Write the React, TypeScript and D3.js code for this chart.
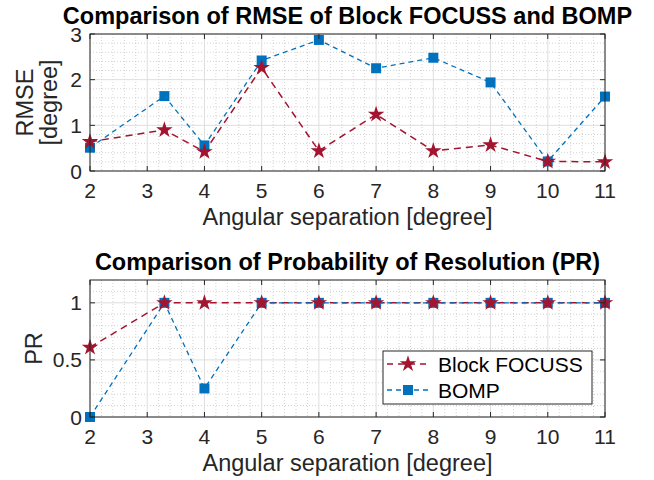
import React from "react";
import * as d3 from "d3";

const angles = [2, 3.3, 4, 5, 6, 7, 8, 9, 10, 11];
const rmseFocuss = [0.64, 0.9, 0.42, 2.26, 0.44, 1.24, 0.44, 0.57, 0.21, 0.2];
const rmseBomp = [0.51, 1.64, 0.56, 2.42, 2.87, 2.25, 2.48, 1.94, 0.21, 1.63];
const prFocuss = [0.61, 1, 1, 1, 1, 1, 1, 1, 1, 1];
const prBomp = [0, 1, 0.25, 1, 1, 1, 1, 1, 1, 1];
const xTicks = [2, 3, 4, 5, 6, 7, 8, 9, 10, 11];
const rmseTicks = [0, 1, 2, 3];
const prTicks = [0, 0.5, 1];
const seriesNames = ["Block FOCUSS", "BOMP"];

const RED = "#A2142F";
const BLUE = "#0072BD";
const FONT = "'Liberation Sans', Arial, Helvetica, sans-serif";
const AX = "#262626";

const starPath = d3.symbol().type(d3.symbolStar).size(85)()!;
const squarePath = d3.symbol().type(d3.symbolSquare).size(100)()!;

type PanelProps = {
  top: number;
  bottom: number;
  yMax: number;
  yTicks: number[];
  minorStep: number;
  focuss: number[];
  bomp: number[];
  title: string;
  ylabel: string[];
  ylabelX: number;
  legend?: boolean;
};

const L = 90;
const R = 605;

function Panel(p: PanelProps) {
  const x = d3.scaleLinear().domain([2, 11]).range([L, R]);
  const y = d3.scaleLinear().domain([0, p.yMax]).range([p.bottom, p.top]);
  const xMinor = d3.range(2, 11.0001, 0.2).filter((v) => Math.abs(v - Math.round(v)) > 1e-6);
  const yMinor = d3
    .range(0, p.yMax + 1e-6, p.minorStep)
    .filter((v) => !p.yTicks.some((t) => Math.abs(t - v) < 1e-6));
  const line = d3
    .line<number>()
    .x((_, i) => x(angles[i]))
    .y((d) => y(d));
  const tl = 5;
  const cx = (L + R) / 2;
  const cy = (p.top + p.bottom) / 2;
  return (
    <g>
      {xMinor.map((v, i) => (
        <line key={"xm" + i} x1={x(v)} x2={x(v)} y1={p.top} y2={p.bottom} stroke="#c8c8c8" strokeWidth={0.8} strokeDasharray="1,2" />
      ))}
      {yMinor.map((v, i) => (
        <line key={"ym" + i} x1={L} x2={R} y1={y(v)} y2={y(v)} stroke="#c8c8c8" strokeWidth={0.8} strokeDasharray="1,2" />
      ))}
      {xTicks.map((v) => (
        <line key={"xg" + v} x1={x(v)} x2={x(v)} y1={p.top} y2={p.bottom} stroke="#dedede" strokeWidth={1} />
      ))}
      {p.yTicks.map((v) => (
        <line key={"yg" + v} x1={L} x2={R} y1={y(v)} y2={y(v)} stroke="#dedede" strokeWidth={1} />
      ))}
      <path d={line(p.focuss)!} fill="none" stroke={RED} strokeWidth={1.5} strokeDasharray="7,5" />
      <path d={line(p.bomp)!} fill="none" stroke={BLUE} strokeWidth={1.3} strokeDasharray="5,4" />
      {p.bomp.map((v, i) => (
        <path key={"b" + i} d={squarePath} transform={`translate(${x(angles[i])},${y(v)})`} fill={BLUE} />
      ))}
      {p.focuss.map((v, i) => (
        <path key={"f" + i} d={starPath} transform={`translate(${x(angles[i])},${y(v)})`} fill={RED} />
      ))}
      <rect x={L} y={p.top} width={R - L} height={p.bottom - p.top} fill="none" stroke={AX} strokeWidth={1} />
      {xTicks.map((v) => (
        <g key={"xt" + v}>
          <line x1={x(v)} x2={x(v)} y1={p.bottom} y2={p.bottom - tl} stroke={AX} />
          <line x1={x(v)} x2={x(v)} y1={p.top} y2={p.top + tl} stroke={AX} />
          <text x={x(v)} y={p.bottom + 27} textAnchor="middle" fontSize={21} fill={AX} fontFamily={FONT}>
            {v}
          </text>
        </g>
      ))}
      {p.yTicks.map((v) => (
        <g key={"yt" + v}>
          <line x1={L} x2={L + tl} y1={y(v)} y2={y(v)} stroke={AX} />
          <line x1={R} x2={R - tl} y1={y(v)} y2={y(v)} stroke={AX} />
          <text x={82} y={y(v) + 7.5} textAnchor="end" fontSize={21} fill={AX} fontFamily={FONT}>
            {v}
          </text>
        </g>
      ))}
      <text x={cx} y={p.top - 10} textAnchor="middle" fontSize={23.5} fontWeight="bold" fill="#000" fontFamily={FONT}>
        {p.title}
      </text>
      <text x={cx} y={p.bottom + 54} textAnchor="middle" fontSize={23.5} fill={AX} fontFamily={FONT}>
        Angular separation [degree]
      </text>
      <text transform={`translate(${p.ylabelX},${cy}) rotate(-90)`} textAnchor="middle" fontSize={23.5} fill={AX} fontFamily={FONT}>
        {p.ylabel.map((s, i) => (
          <tspan key={i} x={0} dy={i === 0 ? 0 : 24}>
            {s}
          </tspan>
        ))}
      </text>
      {p.legend && (
        <g>
          <rect x={383} y={351} width={209} height={53} fill="#fff" stroke={AX} strokeWidth={1} />
          {[0, 1].map((i) => {
            const ly = i === 0 ? 364 : 390;
            const c = i === 0 ? RED : BLUE;
            return (
              <g key={"lg" + i}>
                <line x1={387} x2={429} y1={ly} y2={ly} stroke={c} strokeWidth={i === 0 ? 1.5 : 1.3} strokeDasharray={i === 0 ? "6,5" : "5,4"} />
                <path d={i === 0 ? starPath : squarePath} transform={`translate(408,${ly})`} fill={c} />
                <text x={438} y={ly + 7.5} fontSize={21} fill="#000" fontFamily={FONT}>
                  {seriesNames[i]}
                </text>
              </g>
            );
          })}
        </g>
      )}
    </g>
  );
}

export default function App() {
  return (
    <svg width={654} height={480} style={{ position: "absolute", left: 0, top: 0, background: "#fff" }}>
      <rect width={654} height={480} fill="#fff" />
      <Panel
        top={34}
        bottom={171}
        yMax={3}
        yTicks={rmseTicks}
        minorStep={0.2}
        focuss={rmseFocuss}
        bomp={rmseBomp}
        title="Comparison of RMSE of Block FOCUSS and BOMP"
        ylabel={["RMSE", "[degree]"]}
        ylabelX={33}
      />
      <Panel
        top={280}
        bottom={417}
        yMax={1.2}
        yTicks={prTicks}
        minorStep={0.1}
        focuss={prFocuss}
        bomp={prBomp}
        title="Comparison of Probability of Resolution (PR)"
        ylabel={["PR"]}
        ylabelX={42}
        legend
      />
    </svg>
  );
}
